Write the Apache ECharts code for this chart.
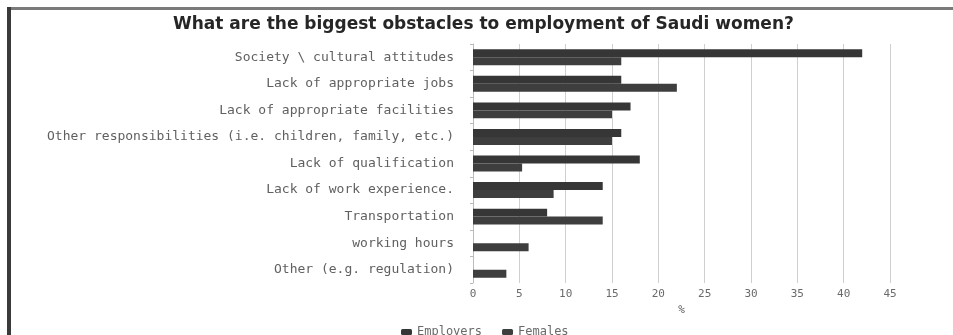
<!DOCTYPE html>
<html>
<head>
<meta charset="utf-8">
<script src="https://cdn.jsdelivr.net/npm/echarts@6/dist/echarts.min.js"></script>
<style>
html,body{margin:0;padding:0;background:#fff;}
#chart{width:953px;height:335px;}
</style>
</head>
<body>
<div id="chart"></div>
<script>
var categories = [
  "Society \\ cultural attitudes",
  "Lack of appropriate jobs",
  "Lack of appropriate facilities",
  "Other responsibilities (i.e. children, family, etc.)",
  "Lack of qualification",
  "Lack of work experience.",
  "Transportation",
  "working hours",
  "Other (e.g. regulation)"
];
var employers = [42, 16, 17, 16, 18, 14, 8, 0, 0];
var females = [16, 22, 15, 15, 5.3, 8.7, 14, 6, 3.6];
var xTicks = [0, 5, 10, 15, 20, 25, 30, 35, 40, 45];

var chart = echarts.init(document.getElementById('chart'), null, {renderer: 'canvas'});
chart.setOption({
  animation: false,
  backgroundColor: '#ffffff',
  title: {
    text: 'What are the biggest obstacles to employment of Saudi women?',
    left: 168,
    top: 11,
    textStyle: {fontFamily: 'DejaVu Sans', fontWeight: 'bold', fontSize: 17, color: '#262626'}
  },
  legend: {
    left: 396,
    top: 321,
    itemWidth: 11,
    itemHeight: 6,
    itemGap: 20,
    textStyle: {fontFamily: 'DejaVu Sans Mono', fontSize: 12, color: '#6a6a6a'},
    data: ['Employers', 'Females']
  },
  grid: {left: 473, right: 63, top: 44, bottom: 52, containLabel: false},
  xAxis: {
    type: 'value',
    min: 0, max: 45, interval: 5,
    name: '%',
    nameLocation: 'middle',
    nameGap: 17,
    nameTextStyle: {fontFamily: 'DejaVu Sans Mono', fontSize: 11, color: '#555555'},
    axisLine: {show: false},
    axisTick: {show: false},
    axisLabel: {fontFamily: 'DejaVu Sans Mono', fontSize: 11, color: '#6a6a6a', margin: 6,
      formatter: function (v) { return xTicks.indexOf(v) >= 0 ? String(v) : ''; }},
    splitLine: {show: true, lineStyle: {color: '#cfcfcf', width: 1}}
  },
  yAxis: {
    type: 'category',
    data: categories,
    inverse: true,
    axisLine: {show: true, lineStyle: {color: '#bbbbbb'}},
    axisTick: {show: true, length: 3, lineStyle: {color: '#bbbbbb'}},
    axisLabel: {fontFamily: 'DejaVu Sans Mono', fontSize: 13, color: '#606060', margin: 19}
  },
  series: [
    {name: 'Employers', type: 'bar', data: employers, itemStyle: {color: '#363636'},
     barGap: '0%', barCategoryGap: '40%'},
    {name: 'Females', type: 'bar', data: females, itemStyle: {color: '#3e3e3e'},
     barGap: '0%', barCategoryGap: '40%'}
  ],
  graphic: [
    {type: 'rect', shape: {x: 7, y: 7, width: 946, height: 3}, style: {fill: '#7a7a7a'}, silent: true},
    {type: 'rect', shape: {x: 7, y: 7, width: 4, height: 328}, style: {fill: '#3a3a3a'}, silent: true}
  ]
});
</script>
</body>
</html>
